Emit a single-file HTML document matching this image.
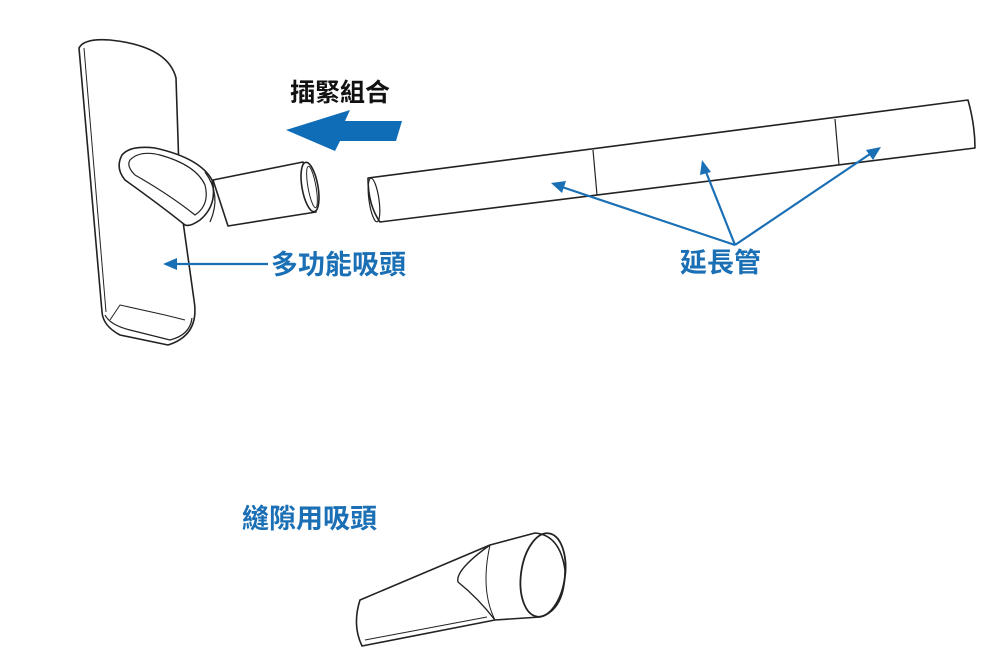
<!DOCTYPE html>
<html><head><meta charset="utf-8"><style>
html,body{margin:0;padding:0;background:#fff;}
svg{display:block}
text{font-family:"Liberation Sans","Noto Sans CJK TC",sans-serif;font-weight:bold}
</style></head><body>
<svg width="1000" height="661" viewBox="0 0 1000 661" xmlns="http://www.w3.org/2000/svg">
<g fill="none" stroke="#222" stroke-width="1.6" stroke-linejoin="round">
<!-- floor nozzle -->
<path d="M79,48 Q84,38 110,40 Q168,46 176,78 L180,200 L194,300 Q200,335 168,345 L120,335 Q103,326 102,312 Z" fill="#fff"/>
<path d="M84,48 L106,312" stroke-width="1"/>
<path d="M105,315 Q110,325 130,330 L170,340 Q190,335 192,318" stroke-width="1.2"/>
<path d="M110,320 L120,305 L165,315 L185,320" stroke-width="1"/>
<!-- tube -->
<path d="M213,180 L303,162 L316,212 L228,226 Z" fill="#fff"/>
<ellipse cx="310" cy="187" rx="8" ry="25" transform="rotate(-10 310 187)" fill="#fff"/>
<ellipse cx="312" cy="187" rx="4" ry="21" transform="rotate(-10 312 187)" stroke-width="1"/>
<!-- neck -->
<path d="M122,155 Q130,145 155,148 Q200,158 212,180 Q218,205 200,220 Q190,227 185,225 Q160,205 125,180 Q115,168 122,155 Z" fill="#fff"/>
<path d="M130,160 Q140,150 160,155 Q196,165 205,185 Q210,205 195,215 Q170,195 135,175 Q126,166 130,160 Z" stroke-width="1.2"/>
<path d="M205,172 Q222,195 210,222" stroke-width="1.2"/>
<!-- extension tube -->
<path d="M368,178 L968,100 Q975,125 975,148 L380,222 Q368,205 368,178 Z" fill="#fff"/>
<ellipse cx="374" cy="200" rx="5" ry="22" transform="rotate(-8 374 200)" stroke-width="1.2"/>
<path d="M593,150 L597,195 M835,119 L839,165" stroke-width="1.2"/>
<!-- crevice tool -->
<path d="M360,600 L490,545 L535,533 Q560,535 565,570 Q565,610 540,617 L495,620 L362,646 Q352,625 360,600 Z" fill="#fff"/>
<path d="M490,545 Q455,570 458,582 Q478,598 495,620" stroke-width="1.4"/>
<path d="M490,545 Q480,590 495,620" stroke-width="1"/>
<ellipse cx="543" cy="575" rx="22" ry="42" transform="rotate(8 543 575)" stroke-width="1.8"/>
<path d="M365,640 L487,617" stroke-width="1"/>
</g>
<!-- blue big arrow -->
<path d="M286,130 L350,110 L345,121 L402,121 L396,141 L340,141 L335,151 Z" fill="#0f6cb6"/>
<!-- blue pointer arrows -->
<g stroke="#1a6fb5" stroke-width="2.2" fill="#1a6fb5">
<line x1="268" y1="264" x2="175" y2="264"/>
<path d="M163,264 L177,258 L177,270 Z" stroke="none"/>
<line x1="735" y1="245" x2="562" y2="187"/>
<path d="M551,183 L566,181 L562,193 Z" stroke="none"/>
<line x1="735" y1="245" x2="706" y2="172"/>
<path d="M702,160 L711,172 L700,175 Z" stroke="none"/>
<line x1="735" y1="245" x2="870" y2="154"/>
<path d="M881,147 L873,160 L866,150 Z" stroke="none"/>
</g>
<text x="290" y="101" font-size="25" fill="#111">插緊組合</text>
<text x="271" y="274" font-size="27" fill="#1a6fb5">多功能吸頭</text>
<text x="680" y="272" font-size="27" fill="#1a6fb5">延長管</text>
<text x="242" y="528" font-size="27" fill="#1a6fb5">縫隙用吸頭</text>
</svg>
</body></html>
